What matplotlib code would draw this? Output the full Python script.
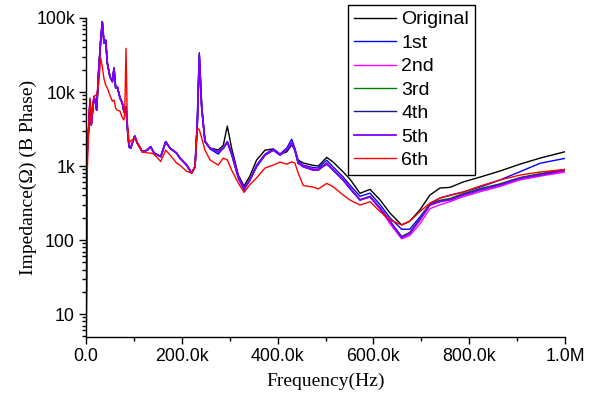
import matplotlib
matplotlib.use("Agg")
import matplotlib.pyplot as plt
from matplotlib.ticker import FixedLocator, NullFormatter, LogLocator
import numpy as np

labels = ["Original", "1st", "2nd", "3rd", "4th", "5th", "6th"]
colors = ["#000000", "#0000FF", "#FF00FF", "#008000", "#1A1A80", "#7F00FF", "#FF0000"]
widths = [1.0, 1.0, 1.0, 1.0, 1.0, 1.3, 1.0]

freq_khz = [0.5, 2, 5, 8.4, 11, 14, 16.7, 20, 22.3, 26.5, 30.7, 34, 37.6, 41.1, 44.5, 50, 55, 58.5,
            62, 65.3, 71, 75.8, 79.3, 81, 83.5, 86.2, 89.8, 93.3, 101.7, 107, 117.5, 128, 135, 142,
            156, 166.4, 175.4, 189, 196, 210, 220.7, 227.6, 232.4, 236.5, 241.5, 248.4, 259, 276,
            286.6, 295, 304, 318, 330, 342, 356, 373.7, 391, 405, 419, 429.4, 436, 443, 453.6,
            474.5, 485, 502.5, 516, 537, 551, 572, 593, 614, 635, 659, 676, 697, 718, 739, 760,
            787, 823, 864, 906, 948, 1000]

low_common = [8, 1300, 2800, 7800, 3600, 5700, 8700, 7100, 5700, 19800, 50000, 89000, 46000, 50000,
              24600, 16100, 13800, 21000, 11300, 11800, 8300, 7100, 5400, 6100, 6300, 3400, 1820,
              1750, 2540, 2050, 1560, 1640, 1820, 1500, 1340, 2130, 1740, 1500, 1280, 1030, 804, 980]

z_original = low_common + [3800, 27000, 6000, 2200, 1750, 1650, 1900, 3470, 1750, 755, 537, 730,
              1200, 1640, 1700, 1450, 1550, 1920, 1700, 1200, 1100, 1020, 1000, 1310, 1130, 830, 667,
              428, 484, 348, 230, 160, 180, 255, 405, 505, 515, 608, 710, 855, 1060, 1280, 1560]

z_1st = low_common + [3900, 34000, 6400, 2150, 1700, 1450, 1740, 2100, 1410, 680, 470, 647,
              1030, 1450, 1700, 1450, 1750, 2300, 1750, 1150, 1030, 950, 940, 1200, 970, 710, 553,
              390, 430, 300, 198, 140, 140, 205, 305, 370, 405, 445, 520, 647, 838, 1090, 1270]

z_2nd = low_common + [3800, 30000, 6300, 2130, 1740, 1540, 1740, 2100, 1480, 700, 490, 640,
              1000, 1420, 1660, 1420, 1680, 2100, 1680, 1110, 1010, 910, 910, 1040, 900, 660, 510,
              350, 385, 262, 165, 104, 115, 165, 265, 300, 330, 385, 450, 530, 650, 730, 830]

z_3rd = low_common + [3800, 31600, 6300, 2130, 1740, 1560, 1740, 2130, 1500, 717, 500, 647,
              980, 1410, 1640, 1410, 1640, 2030, 1640, 1090, 980, 883, 883, 1090, 883, 647, 500,
              350, 390, 272, 180, 112, 127, 195, 310, 345, 365, 425, 495, 575, 700, 790, 900]

z_4th = low_common + [3800, 31600, 6300, 2130, 1740, 1560, 1740, 2130, 1500, 717, 500, 647,
              980, 1410, 1640, 1410, 1640, 2030, 1640, 1090, 980, 883, 883, 1090, 883, 647, 500,
              348, 387, 270, 178, 110, 125, 190, 305, 338, 356, 415, 485, 565, 690, 770, 890]

z_5th = low_common + [3800, 31600, 6300, 2130, 1740, 1560, 1740, 2130, 1500, 717, 500, 647,
              980, 1410, 1640, 1410, 1640, 2030, 1640, 1090, 980, 883, 883, 1090, 883, 647, 500,
              348, 385, 268, 177, 108, 123, 186, 297, 330, 348, 405, 474, 553, 680, 755, 870]

z_6th = [3, 600, 2500, 8300, 3600, 6700, 8600, 9100, 9100, 13000, 29000, 22000, 15000, 12400,
         11300, 9000, 7500, 7800, 6000, 5700, 5500, 4500, 4200, 5500, 39000, 4000, 2050, 2180,
         2390, 2050, 1560, 1500, 1500, 1450, 1150, 1640, 1410, 1100, 1030, 850, 804, 970,
         3300, 3100, 2400, 1640, 1210, 1030, 1280, 1210, 883, 590, 440, 560, 690, 940, 1030,
         1130, 1060, 1140, 1100, 804, 545, 520, 490, 583, 525, 405, 348, 297, 330, 242, 186,
         160, 180, 242, 316, 370, 400, 445, 537, 647, 755, 830, 900]

series = [z_original, z_1st, z_2nd, z_3rd, z_4th, z_5th, z_6th]

x_ticks = [0, 200e3, 400e3, 600e3, 800e3, 1e6]
x_ticklabels = ["0.0", "200.0k", "400.0k", "600.0k", "800.0k", "1.0M"]
y_ticks = [10, 100, 1e3, 1e4, 1e5]
y_ticklabels = ["10", "100", "1k", "10k", "100k"]

fig = plt.figure(figsize=(5.99, 3.94), dpi=100)
ax = fig.add_axes([86/599, 1-337/394, (565-86)/599, (337-18)/394])

f_hz = np.array(freq_khz) * 1000
lines = []
for z, c, w, lab in zip(series, colors, widths, labels):
    ln, = ax.plot(f_hz, z, color=c, lw=w, label=lab)
    lines.append(ln)

ax.set_yscale("log")
ax.set_xlim(0, 1e6)
ax.set_ylim(4.9, 1e5)

sans = ["Liberation Sans", "DejaVu Sans"]
serif = ["Liberation Serif", "DejaVu Serif"]

ax.set_xticks(x_ticks)
ax.set_xticklabels(x_ticklabels, family=sans, fontsize=12.8)
ax.xaxis.set_minor_locator(FixedLocator([100e3, 300e3, 500e3, 700e3, 900e3]))
ax.set_yticks(y_ticks)
ax.set_yticklabels(y_ticklabels, family=sans, fontsize=12.8)
ax.yaxis.set_minor_locator(LogLocator(base=10, subs=np.arange(2, 10)))
ax.yaxis.set_minor_formatter(NullFormatter())

ax.tick_params(which="major", direction="out", length=5, width=1, pad=3, colors="black")
ax.tick_params(which="minor", direction="out", length=3, width=1)
for s in ["top", "right"]:
    ax.spines[s].set_visible(False)
for s in ["left", "bottom"]:
    ax.spines[s].set_linewidth(1)

fig.text(326/599, 1-381/394, "Frequency(Hz)", family=serif, fontsize=14, ha="center", va="center")
fig.text(28/599, 1-177/394, "Impedance(\u03a9) (B Phase)", family=serif, fontsize=14,
         ha="center", va="center", rotation=90)

leg = ax.legend(handles=lines, loc="upper left", bbox_to_anchor=(348/599, 1-5/394),
                bbox_transform=fig.transFigure, frameon=True, fancybox=False,
                edgecolor="black", framealpha=1, prop={"family": sans, "size": 14},
                handlelength=2.15, handletextpad=0.3, labelspacing=0.30, borderpad=0.3,
                borderaxespad=0)
leg.get_frame().set_linewidth(1)

fig.savefig("out.png", dpi=100)
